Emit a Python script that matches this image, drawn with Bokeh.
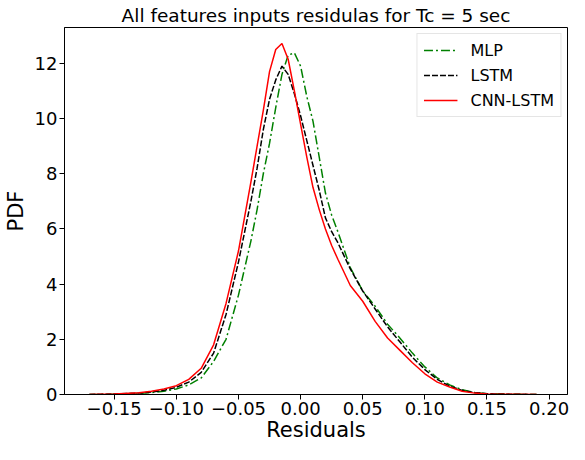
from bokeh.plotting import figure
from bokeh.models import Range1d, FixedTicker, CustomJSTickFormatter, Legend, LegendItem
from bokeh.embed import file_html
from bokeh.resources import INLINE

# Residual grid (x) and KDE densities (PDF)
residuals = [-0.17, -0.15, -0.13, -0.12, -0.11, -0.10, -0.09, -0.08, -0.07, -0.06,
             -0.05, -0.04, -0.035, -0.03, -0.025, -0.02, -0.015, -0.01, -0.005, 0.0,
             0.005, 0.01, 0.015, 0.02, 0.025, 0.03, 0.04, 0.05, 0.06, 0.07,
             0.08, 0.09, 0.10, 0.11, 0.12, 0.13, 0.14, 0.15, 0.17, 0.19]

pdf_mlp = [0.0, 0.01, 0.04, 0.07, 0.12, 0.2, 0.35, 0.6, 1.2, 2.0,
           3.6, 5.56, 6.7, 8.0, 9.1, 10.4, 11.6, 12.3, 12.38, 11.9,
           10.8, 9.9, 8.6, 7.3, 6.5, 5.9, 4.6, 3.75, 3.2, 2.55,
           2.04, 1.5, 1.0, 0.6, 0.35, 0.17, 0.07, 0.03, 0.01, 0.0]

pdf_lstm = [0.0, 0.02, 0.05, 0.09, 0.15, 0.26, 0.45, 0.8, 1.5, 2.9,
            4.8, 7.0, 8.2, 9.6, 10.7, 11.4, 11.9, 11.6, 10.9, 10.1,
            9.2, 8.3, 7.4, 6.4, 5.9, 5.5, 4.55, 3.75, 3.1, 2.45,
            1.9, 1.35, 0.9, 0.55, 0.3, 0.15, 0.07, 0.03, 0.01, 0.0]

pdf_cnn_lstm = [0.0, 0.02, 0.06, 0.12, 0.2, 0.32, 0.55, 0.95, 1.8, 3.3,
                5.2, 7.7, 9.0, 10.3, 11.7, 12.5, 12.72, 12.15, 11.0, 9.8,
                8.6, 7.5, 6.7, 6.0, 5.4, 4.9, 3.95, 3.38, 2.65, 2.05,
                1.6, 1.15, 0.75, 0.45, 0.27, 0.12, 0.05, 0.02, 0.01, 0.0]

x_ticks = [-0.15, -0.10, -0.05, 0.0, 0.05, 0.10, 0.15, 0.20]
y_ticks = [0, 2, 4, 6, 8, 10, 12]

FONT = "DejaVu Sans"
X0, X1 = -0.19, 0.2148

p = figure(width=569, height=444, output_backend="svg", toolbar_location=None,
           x_range=Range1d(X0, X1), y_range=Range1d(0, 13.3),
           title="All features inputs residulas for Tc = 5 sec",
           min_border_left=57, min_border_right=2, min_border_top=22, min_border_bottom=0)

p.title.text_font = FONT
p.title.text_font_size = "18.5px"
p.title.text_font_style = "normal"
p.title.align = "center"
p.title.text_color = "black"
p.title.standoff = 4

p.grid.visible = False
p.outline_line_color = "black"
p.outline_line_width = 1
p.background_fill_color = "white"
p.border_fill_color = "white"

p.xaxis.ticker = FixedTicker(ticks=x_ticks)
p.yaxis.ticker = FixedTicker(ticks=y_ticks)
p.xaxis.formatter = CustomJSTickFormatter(code="""
    const s = Math.abs(tick).toFixed(2);
    return (tick < -1e-9 ? '\u2212' : '') + s;
""")

for ax in [p.xaxis[0], p.yaxis[0]]:
    ax.major_label_text_font = FONT
    ax.major_label_text_font_size = "18px"
    ax.major_label_text_color = "black"
    ax.major_label_text_line_height = 1.0
    ax.axis_label_text_font = FONT
    ax.axis_label_text_font_size = "21px"
    ax.axis_label_text_font_style = "normal"
    ax.axis_label_text_color = "black"
    ax.axis_label_text_line_height = 1.0
    ax.minor_tick_line_color = None
    ax.major_tick_out = 5
    ax.major_tick_in = 0
    ax.major_tick_line_color = "black"
    ax.axis_line_color = "black"
    ax.major_label_standoff = 2

p.xaxis.axis_label_standoff = 0
p.yaxis.axis_label_standoff = 4
p.xaxis.axis_label = "Residuals"
p.yaxis.axis_label = "PDF"

r_mlp = p.line(residuals, pdf_mlp, line_color="green", line_width=1.5, line_dash="9 3 2 3")
r_lstm = p.line(residuals, pdf_lstm, line_color="black", line_width=1.5, line_dash="6 2")
r_cnn = p.line(residuals, pdf_cnn_lstm, line_color="red", line_width=1.5)

legend = Legend(items=[LegendItem(label="MLP", renderers=[r_mlp]),
                       LegendItem(label="LSTM", renderers=[r_lstm]),
                       LegendItem(label="CNN-LSTM", renderers=[r_cnn])],
                location="top_right")
legend.label_text_font = FONT
legend.label_text_font_size = "16px"
legend.label_text_color = "black"
legend.border_line_color = "#cccccc"
legend.border_line_width = 1
legend.background_fill_alpha = 0.8
legend.glyph_width = 34
legend.glyph_height = 20
legend.spacing = 5
legend.padding = 6
legend.margin = 6
legend.label_standoff = 13
p.add_layout(legend)

open("out.html", "w").write(file_html(p, INLINE))
